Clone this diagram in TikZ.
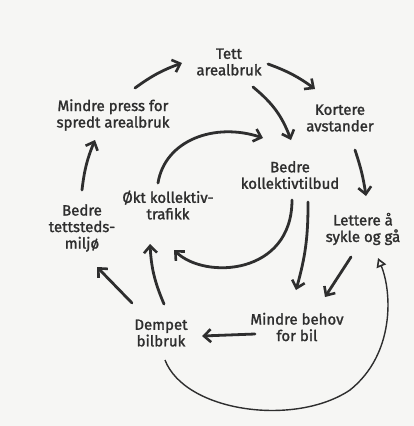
\documentclass[tikz,border=0pt]{standalone}
\usepackage{fontspec}
\setmainfont{Fira Sans}[FakeBold=1.5]
\usetikzlibrary{arrows.meta}
\definecolor{ink}{HTML}{2E2E2E}
\definecolor{paper}{HTML}{F6F6F4}

\tikzset{
  tekst/.style={align=center, text=ink, font=\fontsize{15}{16.5}\selectfont},
  pil/.style={draw=ink, line width=2.8pt, line cap=round,
    -{Straight Barb[length=7pt, width=13pt, line width=2.6pt]}},
  tynn/.style={draw=ink, line width=1.4pt, -{Triangle[open, length=9pt, width=10pt, line width=1.6pt]}}
}

\begin{document}
\begin{tikzpicture}[x=1pt, y=-1pt]
      % Background
      \fill[paper] (0,0) rectangle (414,426);
      \useasboundingbox (0,0) rectangle (414,426);
      % Nodes
      \node[tekst] (tett) at (229,62) {Tett\\arealbruk};
      \node[tekst] (press) at (113,115) {Mindre press for\\spredt arealbruk};
      \node[tekst] (kortere) at (340,118) {Kortere\\avstander};
      \node[tekst] (tilbud) at (290,175) {Bedre\\kollektivtilbud};
      \node[tekst] (trafikk) at (168,205) {Økt kollektiv-\\trafikk};
      \node[tekst] (miljo) at (82,228) {Bedre\\tettsteds-\\miljø};
      \node[tekst] (lettere) at (363,229) {Lettere å\\sykle og gå};
      \node[tekst] (dempet) at (161,333) {Dempet\\bilbruk};
      \node[tekst] (behov) at (297,327) {Mindre behov\\for bil};
      % Outer loop
      \draw[pil] ([shift={(22,-27)}]press.center) to[bend left=8] ([shift={(-47,1)}]tett.center);
      \draw[pil] ([shift={(39,2)}]tett.center) to[bend left=8] ([shift={(-25,-29)}]kortere.center);
      \draw[pil] ([shift={(15,32)}]kortere.center) to[bend left=5] ([shift={(3,-33)}]lettere.center);
      \draw[pil] ([shift={(-12,28)}]lettere.center) -- ([shift={(28,-30)}]behov.center);
      \draw[pil] ([shift={(-42,7)}]behov.center) -- ([shift={(41,3)}]dempet.center);
      \draw[pil] ([shift={(-29,-30)}]dempet.center) -- ([shift={(15,39)}]miljo.center);
      \draw[pil] ([shift={(0,-38)}]miljo.center) to[bend left=8] ([shift={(-18,25)}]press.center);
      % Inner links
      \draw[pil] ([shift={(24,25)}]tett.center) to[bend left=15] ([shift={(1,-35)}]tilbud.center);
      \draw[pil] ([shift={(18,27)}]tilbud.center) to[bend left=8] ([shift={(-1,-37)}]behov.center);
      \draw[pil] ([shift={(3,-29)}]dempet.center) to[bend left=10] ([shift={(-18,39)}]trafikk.center);
      \draw[pil] ([shift={(-10,-22)}]trafikk.center)
        .. controls (165,140) and (215,122) .. ([shift={(-27,-37)}]tilbud.center);
      \draw[pil] ([shift={(2,25)}]tilbud.center)
        .. controls (292,275) and (205,280) .. ([shift={(6,45)}]trafikk.center);
      % Thin return curve
      \draw[tynn] ([shift={(4,27)}]dempet.center)
        .. controls (185,412) and (295,427) .. (350,390)
        .. controls (395,354) and (392,292) .. ([shift={(15,29)}]lettere.center);
    \end{tikzpicture}
\end{document}
